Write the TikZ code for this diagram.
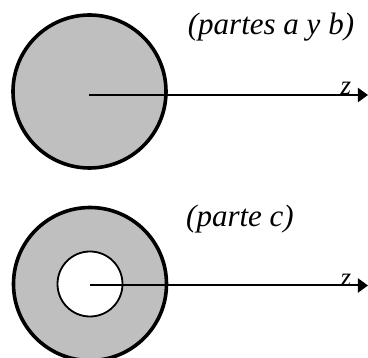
\documentclass[tikz,border=0pt]{standalone}
\usepackage{fontspec}
\setmainfont{Liberation Serif}
\usetikzlibrary{positioning, arrows.meta}

\begin{document}
\begin{tikzpicture}[
		x=1pt, y=-1pt,
		disk/.style={circle, draw, line width=3.6pt, fill=gray!50, minimum size=153pt, inner sep=0pt},
		hole/.style={circle, draw, line width=1.8pt, fill=white, minimum size=65pt, inner sep=0pt},
		partlabel/.style={font=\fontsize{31}{36}\selectfont\itshape, inner sep=0pt, anchor=base},
		axislabel/.style={font=\fontsize{27}{32}\selectfont\itshape, inner sep=0pt, anchor=base},
		arrow/.style={line width=2pt, -{Triangle[length=10pt, width=14pt]}}
		]
		\useasboundingbox (0,0) rectangle (368,358);
		
		% Nodes
		\node[disk] (diskab) at (89.5,91.5) {};
		\node[disk] (diskc) at (90,284) {};
		\node[hole] (hole) at (diskc.center) {};
		\node[partlabel] (titleab) at (271,35) {(partes a y b)};
		\node[partlabel] (titlec) at (240,226.5) {(parte c)};
		
		\coordinate (startab) at (89,95);
		\coordinate (endab) at (368,95);
		\coordinate (startc) at (90,285.5);
		\coordinate (endc) at (368,285.5);
		
		% Edges
		\draw[arrow] (startab) -- (endab);
		\draw[arrow] (startc) -- (endc);
		
		\node[axislabel] (zab) at (346,95) {z};
		\node[axislabel] (zc) at (346,287) {z};
		
	\end{tikzpicture}
\end{document}
